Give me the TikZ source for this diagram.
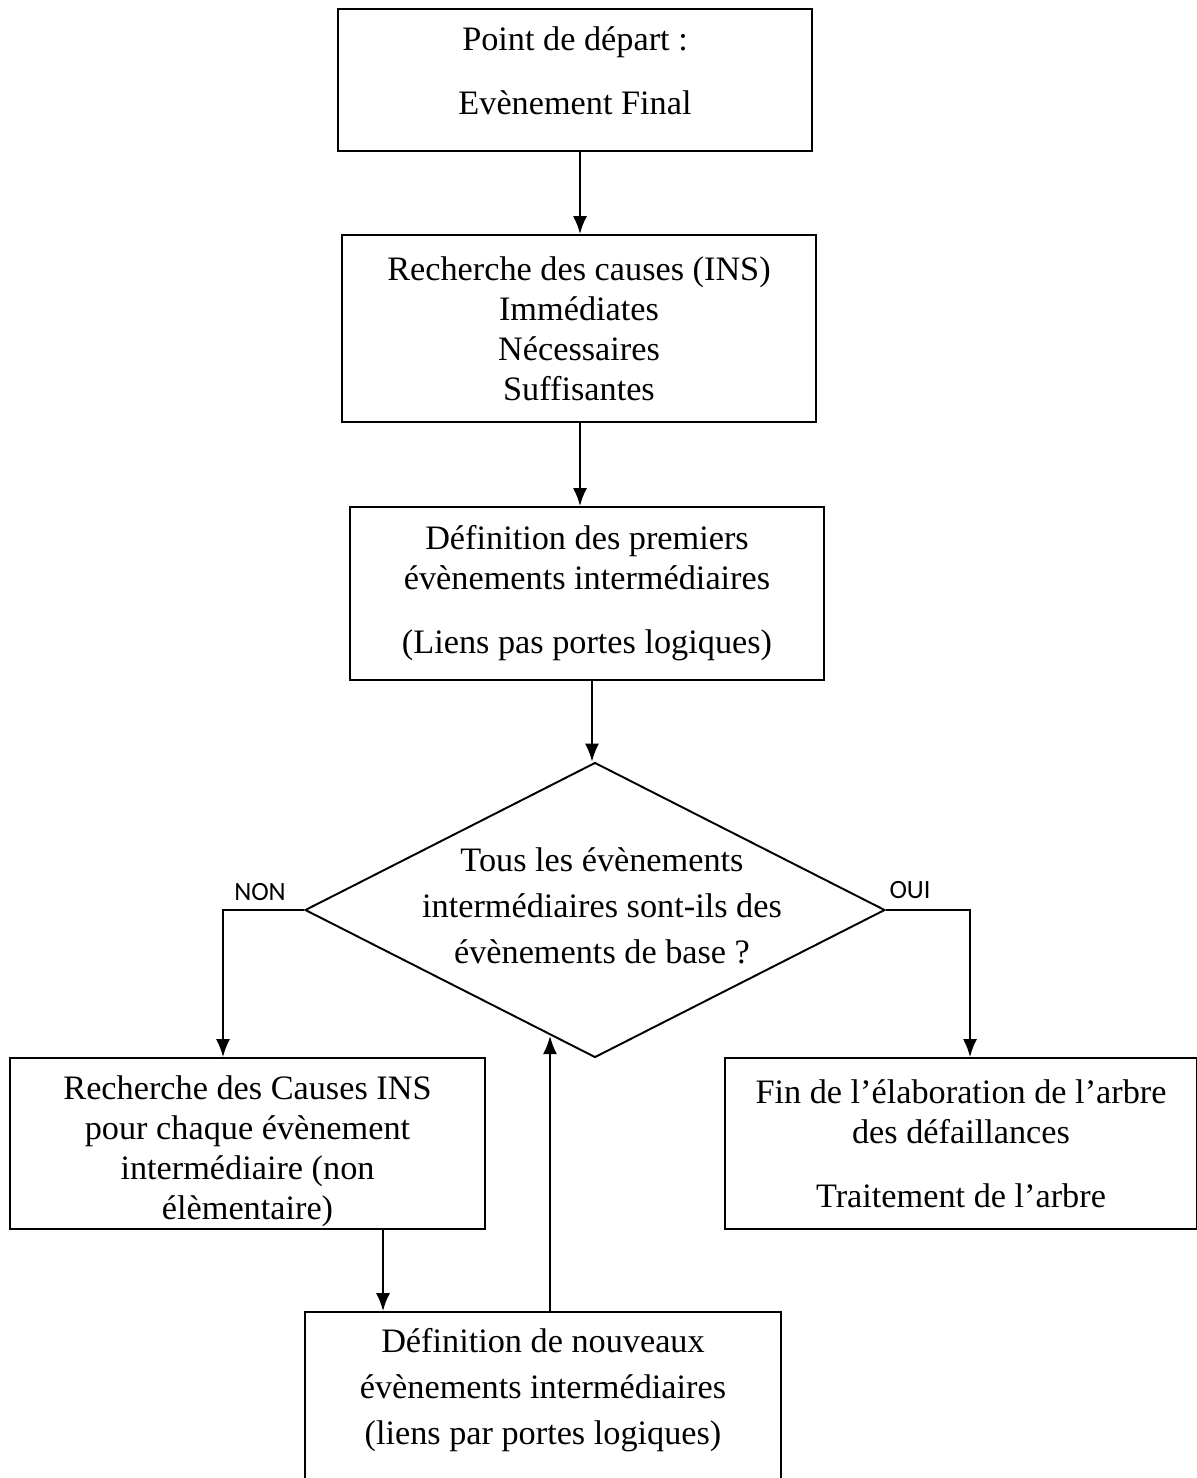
\documentclass[tikz,border=0pt]{standalone}
\usepackage{fontspec}
\setmainfont{Liberation Serif}
\newfontfamily\sanslabel{Carlito}
\usepackage{tikz}
\usetikzlibrary{arrows, arrows.meta, shapes, calc, positioning}
\tikzset{
	every node/.style={
		font=\fontsize{19.5}{22.8}\selectfont
	},
	boite/.style={
		shape=rectangle,
		draw,
		line width=1.1pt,
		minimum width=9.48cm,
		inner sep=0pt,
		align=center
	},
	losange/.style={
		shape=diamond,
		draw,
		line width=1.1pt,
		inner sep=0pt,
		minimum width=11.6cm,
		minimum height=5.9cm
	},
	large/.style={
		font=\fontsize{19.5}{26.1}\selectfont
	},
	reponse/.style={
		font=\sanslabel\fontsize{15}{18}\selectfont
	},
	fleche/.style={
		-{Latex[length=0.36cm, width=0.28cm]},
		line width=1.1pt
	}
}

\begin{document}
\begin{tikzpicture}[x=0.02cm, y=-0.02cm]
	\useasboundingbox (0,0) rectangle (1197,1478);
	
	% boites du haut
	\node[boite, minimum height=2.84cm] (depart) at (575,80)
	{Point de départ :\\[0.48cm] Evènement Final\rule[-0.38cm]{0pt}{0.1cm}};
	\node[boite, minimum height=3.74cm] (causes) at (579,328.5)
	{Recherche des causes (INS)\\ Immédiates\\ Nécessaires\\ Suffisantes};
	\node[boite, minimum height=3.46cm] (premiers) at (587,593.5)
	{Définition des premiers\\ évènements intermédiaires\\[0.48cm] (Liens pas portes logiques)};
	
	% test
	\node[losange] (test) at (595,910) {};
	\node[large, align=center] (question) at (602,906)
	{Tous les évènements\\ intermédiaires sont-ils des\\ évènements de base ?};
	
	% boites du bas
	\node[boite, minimum width=9.5cm, minimum height=3.42cm] (chaque) at (247.5,1143.5)
	{\rule{0pt}{0.8cm}Recherche des Causes INS\\ pour chaque évènement\\ intermédiaire (non\\ élèmentaire)};
	\node[boite, minimum width=9.44cm, minimum height=3.42cm] (fin) at (961,1143.5)
	{Fin de l’élaboration de l’arbre\\ des défaillances\\[0.48cm] Traitement de l’arbre};
	\node[boite, large, minimum width=9.52cm, minimum height=3.4cm] (nouveaux) at (543,1397)
	{Définition de nouveaux\\ évènements intermédiaires\\ (liens par portes logiques)\rule[-0.42cm]{0pt}{0.1cm}};
	
	\coordinate (non) at (223,910);
	\coordinate (oui) at (970,910);
	\coordinate (retour) at (550,1036);
	
	\node[reponse] (nonlbl) at (260,892) {NON};
	\node[reponse] (ouilbl) at (910,890) {OUI};
	
	% fleches
	\draw[fleche] (depart.south -| 580,0) -- (causes.north -| 580,0);
	\draw[fleche] (causes.south -| 580,0) -- (premiers.north -| 580,0);
	\draw[fleche] (premiers.south -| 592,0) -- (test.north -| 592,0);
	\draw[fleche] (test.west) -- (non) -- (non |- chaque.north);
	\draw[fleche] (test.east) -- (oui) -- (oui |- fin.north);
	\draw[fleche] (chaque.south -| 383,0) -- (nouveaux.north -| 383,0);
	\draw[fleche] (nouveaux.north -| retour) -- (retour);
\end{tikzpicture}
\end{document}
